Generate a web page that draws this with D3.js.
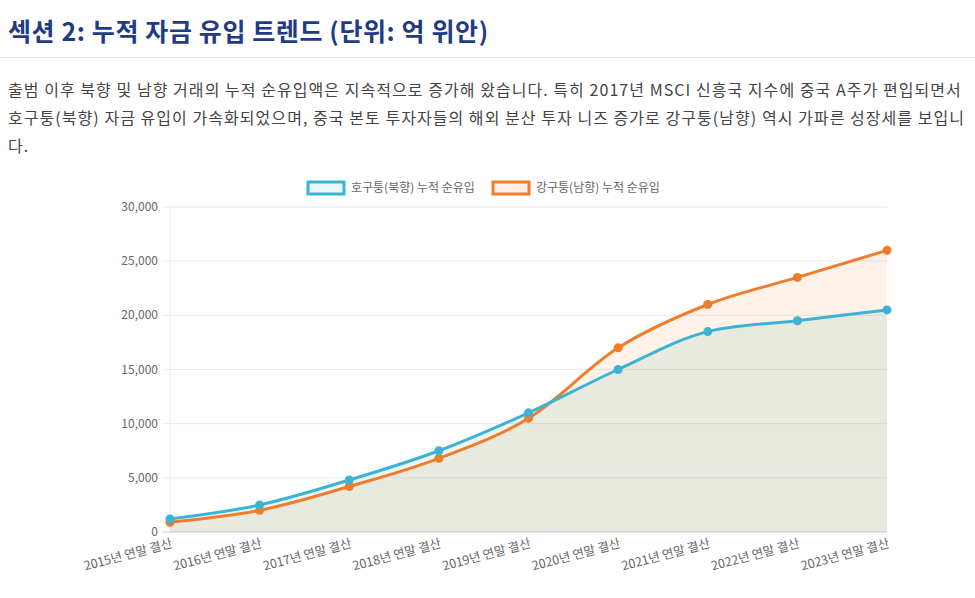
<!DOCTYPE html>
<html><head><meta charset="utf-8">
<script src="https://cdn.jsdelivr.net/npm/d3@7"></script>
<style>
body{margin:0;background:#fff;font-family:"Noto Sans CJK KR","Noto Sans",sans-serif;}
h2{margin:0;padding:12px 8px 9px;font-size:25px;letter-spacing:0.6px;color:#1f3b84;font-weight:700;border-bottom:1px solid #e3e6ea;}
p{margin:17px 8px 0;font-size:16px;letter-spacing:1.05px;line-height:28px;color:#444;}
#chart{position:absolute;left:0;top:170px;}
</style></head><body>
<h2>섹션 2: 누적 자금 유입 트렌드 (단위: 억 위안)</h2>
<p>출범 이후 북향 및 남향 거래의 누적 순유입액은 지속적으로 증가해 왔습니다. 특히 2017년 MSCI 신흥국 지수에 중국 A주가 편입되면서 호구퉁(북향) 자금 유입이 가속화되었으며, 중국 본토 투자자들의 해외 분산 투자 니즈 증가로 강구퉁(남향) 역시 가파른 성장세를 보입니다.</p>
<div id="chart"></div>
<script>
const labels = ["2015년 연말 결산","2016년 연말 결산","2017년 연말 결산","2018년 연말 결산","2019년 연말 결산","2020년 연말 결산","2021년 연말 결산","2022년 연말 결산","2023년 연말 결산"];
const north = [1200, 2500, 4800, 7500, 11000, 15000, 18500, 19500, 20500];
const south = [900, 2000, 4200, 6800, 10500, 17000, 21000, 23500, 26000];
const yTicks = [0, 5000, 10000, 15000, 20000, 25000, 30000];
const series = [
  {name:"강구퉁(남향) 누적 순유입", data:south, color:"#f07c2c", fill:"rgba(245,124,40,0.1)"},
  {name:"호구퉁(북향) 누적 순유입", data:north, color:"#3db3d3", fill:"rgba(40,170,150,0.1)"}
];
const svg = d3.select("#chart").append("svg").attr("width",975).attr("height",428)
  .style("font-family","'Noto Sans CJK KR',sans-serif");
const x = d3.scalePoint().domain(labels).range([170,887]);
const y = d3.scaleLinear().domain([0,30000]).range([362,37]);
svg.append("g").selectAll("line").data(yTicks).join("line")
  .attr("x1",162).attr("x2",887).attr("y1",d=>y(d)).attr("y2",d=>y(d))
  .attr("stroke",d=>d===0?"#ccd":"#e8ebf0");
svg.append("line").attr("x1",170).attr("x2",170).attr("y1",37).attr("y2",362).attr("stroke","#e8ebf0");
svg.append("g").selectAll("text").data(yTicks).join("text")
  .attr("x",158).attr("y",d=>y(d)+4).attr("text-anchor","end")
  .attr("font-size",12).attr("fill","#666").text(d3.format(","));
svg.append("g").selectAll("text").data(labels).join("text")
  .attr("transform",d=>`translate(${x(d)+3},${y(0)+15}) rotate(-15)`)
  .attr("text-anchor","end").attr("font-size",12.5).attr("fill","#666").text(d=>d);
const curve = d3.curveMonotoneX;
series.forEach(s=>{
  svg.append("path").datum(s.data).attr("fill",s.fill)
    .attr("d",d3.area().x((d,i)=>x(labels[i])).y0(y(0)).y1(d=>y(d)).curve(curve));
});
series.forEach(s=>{
  svg.append("path").datum(s.data).attr("fill","none").attr("stroke",s.color).attr("stroke-width",3)
    .attr("d",d3.line().x((d,i)=>x(labels[i])).y(d=>y(d)).curve(curve));
  svg.append("g").selectAll("circle").data(s.data).join("circle")
    .attr("cx",(d,i)=>x(labels[i])).attr("cy",d=>y(d)).attr("r",4.5).attr("fill",s.color);
});
const leg = [
  {name:"호구퉁(북향) 누적 순유입", color:"#3db3d3", fill:"#eaf7fb", x:308},
  {name:"강구퉁(남향) 누적 순유입", color:"#f07c2c", fill:"#fef0e7", x:493}
];
leg.forEach(l=>{
  svg.append("rect").attr("x",l.x).attr("y",12).attr("width",36).attr("height",12)
    .attr("fill",l.fill).attr("stroke",l.color).attr("stroke-width",3);
  svg.append("text").attr("x",l.x+43).attr("y",22).attr("font-size",12).attr("fill","#666").text(l.name);
});
</script>
</body></html>
